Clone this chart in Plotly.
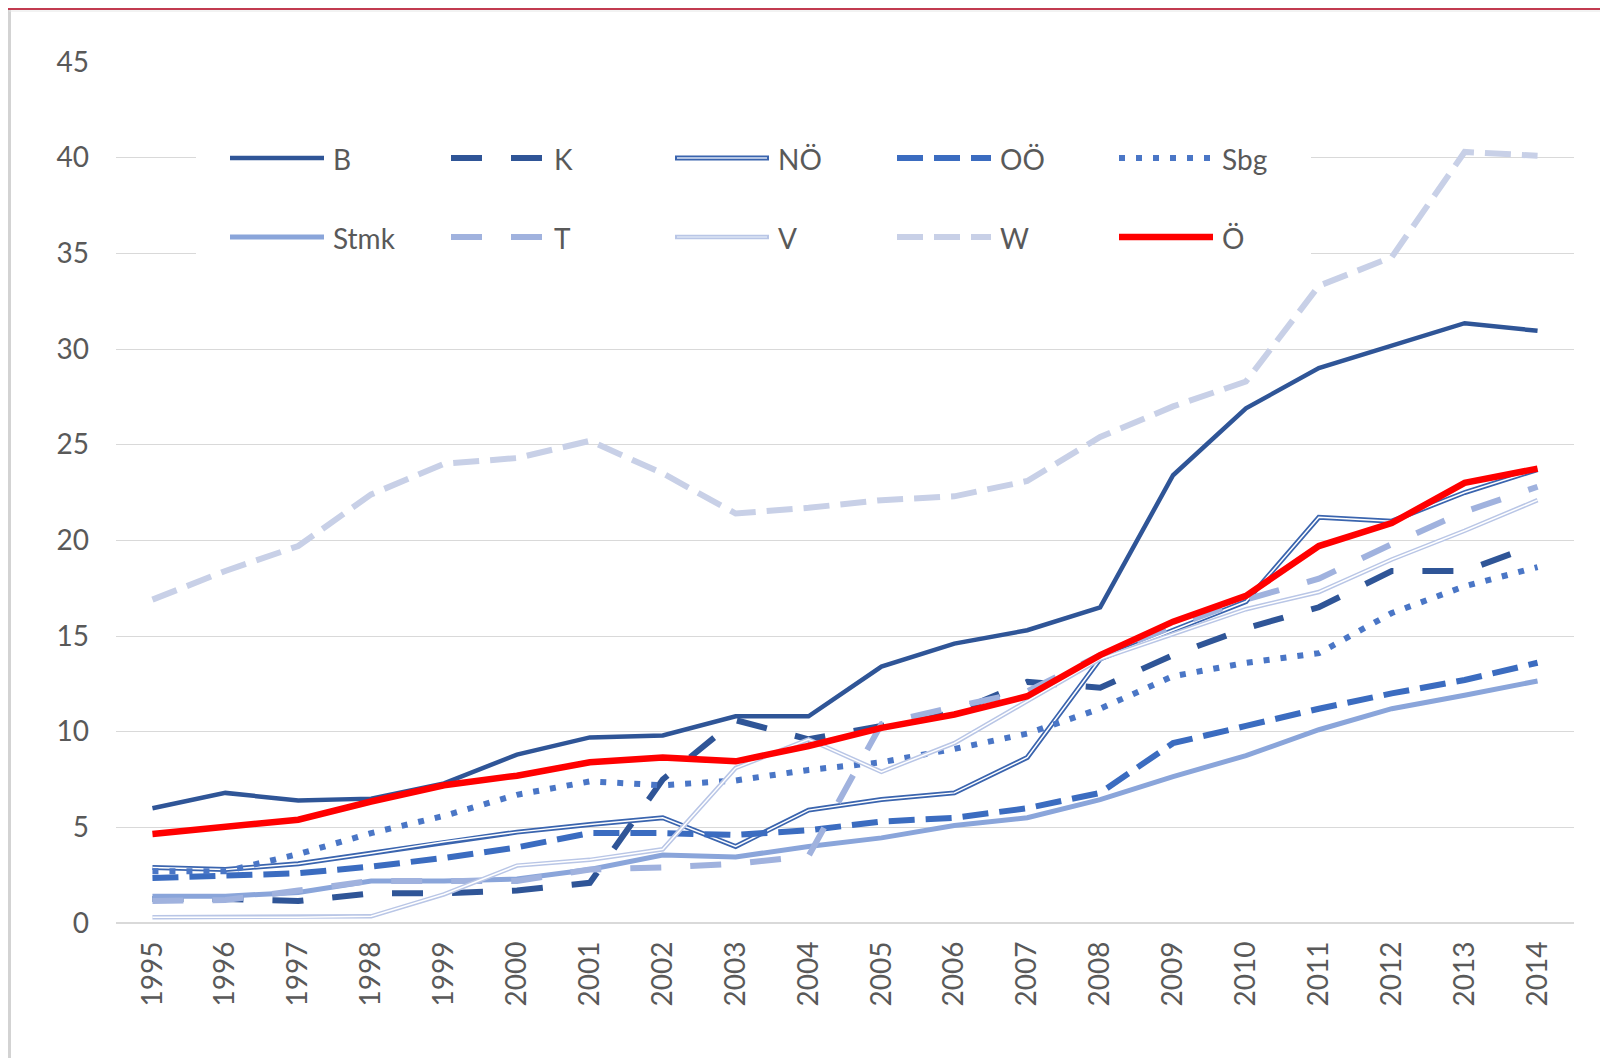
import plotly.graph_objects as go

# data
years = ['1995', '1996', '1997', '1998', '1999', '2000', '2001', '2002', '2003', '2004',
         '2005', '2006', '2007', '2008', '2009', '2010', '2011', '2012', '2013', '2014']

B    = [6.0, 6.8, 6.4, 6.5, 7.3, 8.8, 9.7, 9.8, 10.8, 10.8, 13.4, 14.6, 15.3, 16.5, 23.4, 26.9, 29.0, 30.2, 31.35, 30.95]
K    = [1.25, 1.25, 1.15, 1.55, 1.55, 1.7, 2.1, 7.5, 10.6, 9.6, 10.3, 11.0, 12.6, 12.3, 14.0, 15.4, 16.5, 18.4, 18.4, 19.8]
NOE  = [2.9, 2.8, 3.1, 3.65, 4.25, 4.75, 5.15, 5.5, 4.0, 5.9, 6.45, 6.8, 8.65, 13.8, 15.3, 16.8, 21.2, 21.0, 22.5, 23.7]
OOE  = [2.35, 2.5, 2.6, 2.95, 3.4, 3.95, 4.7, 4.7, 4.6, 4.85, 5.3, 5.5, 6.0, 6.8, 9.4, 10.3, 11.2, 12.0, 12.7, 13.6]
Sbg  = [2.7, 2.7, 3.6, 4.7, 5.6, 6.7, 7.4, 7.2, 7.45, 8.0, 8.4, 9.1, 9.9, 11.2, 12.9, 13.6, 14.1, 16.2, 17.6, 18.6]
Stmk = [1.4, 1.4, 1.6, 2.2, 2.2, 2.3, 2.8, 3.55, 3.45, 4.0, 4.45, 5.1, 5.5, 6.45, 7.65, 8.75, 10.1, 11.2, 11.9, 12.65]
T    = [1.15, 1.2, 1.7, 2.2, 2.2, 2.2, 2.8, 2.9, 3.1, 3.5, 10.4, 11.3, 12.1, 14.0, 15.5, 16.9, 18.0, 19.8, 21.5, 22.8]
V    = [0.3, 0.3, 0.3, 0.35, 1.5, 3.0, 3.3, 3.85, 8.1, 9.6, 7.9, 9.4, 11.6, 13.8, 15.1, 16.4, 17.3, 19.0, 20.5, 22.1]
W    = [16.9, 18.4, 19.7, 22.4, 24.0, 24.3, 25.2, 23.5, 21.4, 21.7, 22.1, 22.3, 23.1, 25.4, 27.0, 28.3, 33.3, 34.8, 40.3, 40.1]
OE   = [4.65, 5.05, 5.4, 6.35, 7.2, 7.7, 8.4, 8.65, 8.45, 9.25, 10.2, 10.9, 11.85, 14.0, 15.75, 17.1, 19.7, 20.9, 23.0, 23.75]

# name, values, color, width, dash, inner color for double lines
series = [
    ('B',    B,    '#2F5597', 4.5, 'solid',       None),
    ('K',    K,    '#2F5597', 6,   '31px,29px',   None),
    ('NÖ',   NOE,  '#3A64AE', 5,   'solid',       '#FFFFFF'),
    ('OÖ',   OOE,  '#3B6CC0', 6,   '26px,11px',   None),
    ('Sbg',  Sbg,  '#4A76C6', 6,   '6px,11px',    None),
    ('Stmk', Stmk, '#8AA5DA', 5,   'solid',       None),
    ('T',    T,    '#A0B2DE', 6,   '31px,29px',   None),
    ('V',    V,    '#B9C6E6', 4.5, 'solid',       '#FFFFFF'),
    ('W',    W,    '#C8D0E7', 6,   '26px,11px',   None),
    ('Ö',    OE,   '#FF0000', 6.5, 'solid',       None),
]

# the page body adds 8px around the figure, so everything is shifted by it
OFF = 8
W_FIG, H_FIG = 1600, 1050
M_L, M_R, M_T, M_B = 108, 34, 54, 135
PW = W_FIG - M_L - M_R
PH = H_FIG - M_T - M_B


def px_x(px):
    # screen px -> paper x
    return (px - OFF - M_L) / PW


def px_y(py):
    # screen px -> paper y
    return (H_FIG - M_B - (py - OFF)) / PH


fig = go.Figure()
for name, vals, color, width, dash, inner in series:
    fig.add_trace(
        go.Scatter(
            x = years,
            y = vals,
            mode = 'lines',
            name = name,
            line = dict(color = color, width = width, dash = dash),
            hovertemplate = name + ': %{y}<extra></extra>',
            showlegend = False,
        )
    )
    if inner:
        fig.add_trace(
            go.Scatter(
                x = years,
                y = vals,
                mode = 'lines',
                line = dict(color = inner, width = 1.5),
                hoverinfo = 'skip',
                showlegend = False,
            )
        )

# hand-built legend (Excel style, 5 columns x 2 rows)
col_x = [230, 451, 675, 897, 1119]
row_y = [158, 237]
sym_len = 94
label_font = dict(family = 'Lato, sans-serif', size = 28, color = '#595959')

shapes = [
    # white legend box hiding the grid lines
    dict(type = 'rect', xref = 'paper', yref = 'paper',
         x0 = px_x(196), x1 = px_x(1311), y0 = px_y(275), y1 = px_y(112),
         fillcolor = 'white', line = dict(width = 0), layer = 'above', opacity = 1),
    # outer frame bits
    dict(type = 'line', xref = 'paper', yref = 'paper',
         x0 = px_x(0), x1 = px_x(1620), y0 = px_y(9), y1 = px_y(9),
         line = dict(color = '#C23B50', width = 2), opacity = 1),
    dict(type = 'line', xref = 'paper', yref = 'paper',
         x0 = px_x(9.5), x1 = px_x(9.5), y0 = px_y(10), y1 = px_y(1070),
         line = dict(color = '#D3D3D3', width = 3), opacity = 1),
    dict(type = 'line', xref = 'paper', yref = 'paper',
         x0 = px_x(9), x1 = px_x(1620), y0 = px_y(11), y1 = px_y(11),
         line = dict(color = '#E6E6E6', width = 1), opacity = 1),
]
annotations = []
for i, (name, vals, color, width, dash, inner) in enumerate(series):
    x0 = col_x[i % 5]
    y = row_y[i // 5]
    shapes.append(
        dict(type = 'line', xref = 'paper', yref = 'paper',
             x0 = px_x(x0), x1 = px_x(x0 + sym_len), y0 = px_y(y), y1 = px_y(y),
             line = dict(color = color, width = width, dash = dash),
             layer = 'above', opacity = 1)
    )
    if inner:
        shapes.append(
            dict(type = 'line', xref = 'paper', yref = 'paper',
                 x0 = px_x(x0 + 2), x1 = px_x(x0 + sym_len - 2), y0 = px_y(y), y1 = px_y(y),
                 line = dict(color = '#DCE5F5', width = 1.5), layer = 'above', opacity = 1)
        )
    annotations.append(
        dict(text = name, xref = 'paper', yref = 'paper',
             x = px_x(x0 + sym_len + 7), y = px_y(y + 1),
             xanchor = 'left', yanchor = 'middle', showarrow = False,
             font = label_font)
    )

fig.update_layout(
    width = W_FIG,
    height = H_FIG,
    template = 'simple_white',
    plot_bgcolor = 'white',
    paper_bgcolor = 'white',
    margin = dict(l = M_L, r = M_R, t = M_T, b = M_B),
    font = dict(family = 'Lato, sans-serif', size = 28, color = '#595959'),
    hovermode = 'x unified',
    xaxis = dict(
        type = 'category',
        range = [-0.5, 19.5],
        tickangle = -90,
        showline = False,
        ticks = '',
        showgrid = False,
        ticklabelstandoff = 12,
        tickfont = label_font,
    ),
    yaxis = dict(
        range = [0, 45],
        dtick = 5,
        showline = False,
        ticks = '',
        showgrid = True,
        gridcolor = '#D9D9D9',
        gridwidth = 1.3,
        zeroline = True,
        zerolinecolor = '#D9D9D9',
        zerolinewidth = 1.5,
        ticklabelstandoff = 26,
        tickfont = label_font,
    ),
    shapes = shapes,
    annotations = annotations,
)

fig.write_html('out.html')
